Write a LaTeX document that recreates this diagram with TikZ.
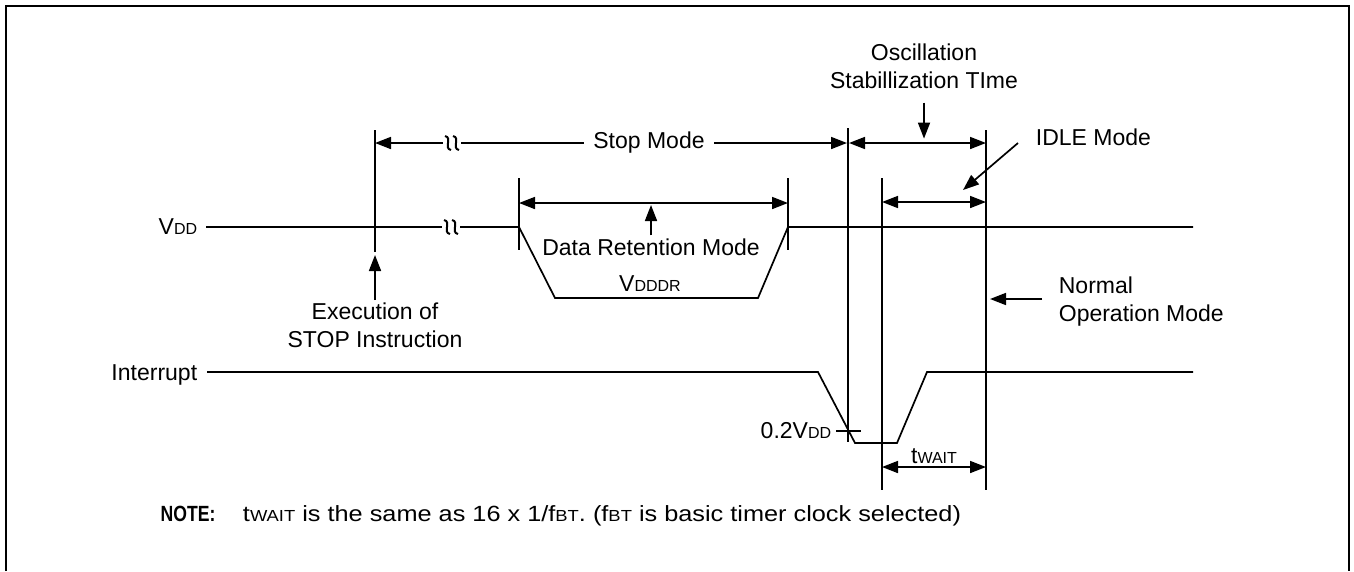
\documentclass[tikz,border=0pt]{standalone}
\usepackage{fontspec}
\setmainfont{Liberation Sans}
\usetikzlibrary{arrows.meta}
\newcommand{\sm}[1]{{\fontsize{16}{16}\selectfont #1}}

\begin{document}
\begin{tikzpicture}[x=1pt,y=-1pt,line width=1.7pt,
  >={Triangle[length=16pt,width=12pt]},
  lbl/.style={font=\fontsize{23}{28}\selectfont, inner sep=2pt},
  notefont/.style={font=\fontsize{22}{26}\selectfont, inner sep=0pt},
  wavy/.pic={\foreach \d in {-4,4} \draw[line width=2pt] (\d+3,7) .. controls (\d-5,5) and (\d+5,-5) .. (\d-3,-7);}]
\useasboundingbox (0,0) rectangle (1354,571);
% frame
\draw[line width=2.6pt] (6,571) -- (6,6) -- (1349,6) -- (1349,571);

% VDD signal
\node[lbl, anchor=east] (vdd) at (200,227) {V\sm{DD}};
\draw ([xshift=6pt]vdd.east) -- (442,227);
\pic at (451,227) {wavy};
\draw (460,227) -- (519,227) -- (555,298) -- (758,298) -- (788,227) -- (1193,227);

% interrupt signal
\node[lbl, anchor=base east] (intr) at (200,380) {Interrupt};
\draw (207,372) -- (818,372) -- (855,443) -- (897,443) -- (927,372) -- (1193,372);

% timing marks
\draw (375,130) -- (375,252);
\draw (519,178) -- (519,250);
\draw (788,178) -- (788,250);
\draw (848,128) -- (848,442);
\draw (882,178) -- (882,490);
\draw (986,130) -- (986,490);

% stop mode
\node[lbl, inner xsep=9pt] (stop) at (649,143) {Stop Mode};
\draw[<-] (375,143) -- (443,143);
\pic at (452,143) {wavy};
\draw (461,143) -- (stop.west);
\draw[->] (stop.east) -- (847,143);

% oscillation stabilization
\draw[<->] (849,143) -- (986,143);
\node[lbl, align=center, anchor=north] (osc) at (924,41) {Oscillation\\Stabillization TIme};
\draw[->] ([yshift=-11pt]osc.south) -- ++(0,36);

% idle mode
\draw[<->] (882,202) -- (986,202);
\node[lbl, anchor=west] (idle) at (1033,137) {IDLE Mode};
\draw[->] (1018,143) -- (963,190);

% data retention
\draw[<->] (519,203) -- (788,203);
\node[lbl, anchor=base] (dr) at (651,255) {Data Retention Mode};
\draw[->] (dr.north) -- (651,205);
\node[lbl, anchor=base] (vdddr) at (650,291) {V\sm{DDDR}};

% stop instruction
\node[lbl, align=center, anchor=north] (exec) at (375,300) {Execution of\\STOP Instruction};
\draw[->] (exec.north) -- (375,255);

% normal operation
\node[lbl, align=left, anchor=north west] (norm) at (1056,274) {Normal\\Operation Mode};
\draw[->] (1042,299) -- (990,299);

% 0.2 VDD level
\draw (836,431) -- (861,431);
\node[lbl, anchor=east] (lvl) at (834,431) {0.2V\sm{DD}};

% t wait
\draw[<->] (882,467) -- (986,467);
\node[lbl, anchor=base] (tw) at (934,463) {t\sm{WAIT}};

% note
\node[notefont, font={\bfseries\fontsize{22}{26}\selectfont}, xscale=.8, anchor=base west] (note) at (160,521) {NOTE:};
\node[notefont, xscale=1.15, anchor=base west] (notetxt) at (242,521) {t\sm{WAIT} is the same as 16 x 1/f\sm{BT}. (f\sm{BT} is basic timer clock selected)};
\end{tikzpicture}
\end{document}
